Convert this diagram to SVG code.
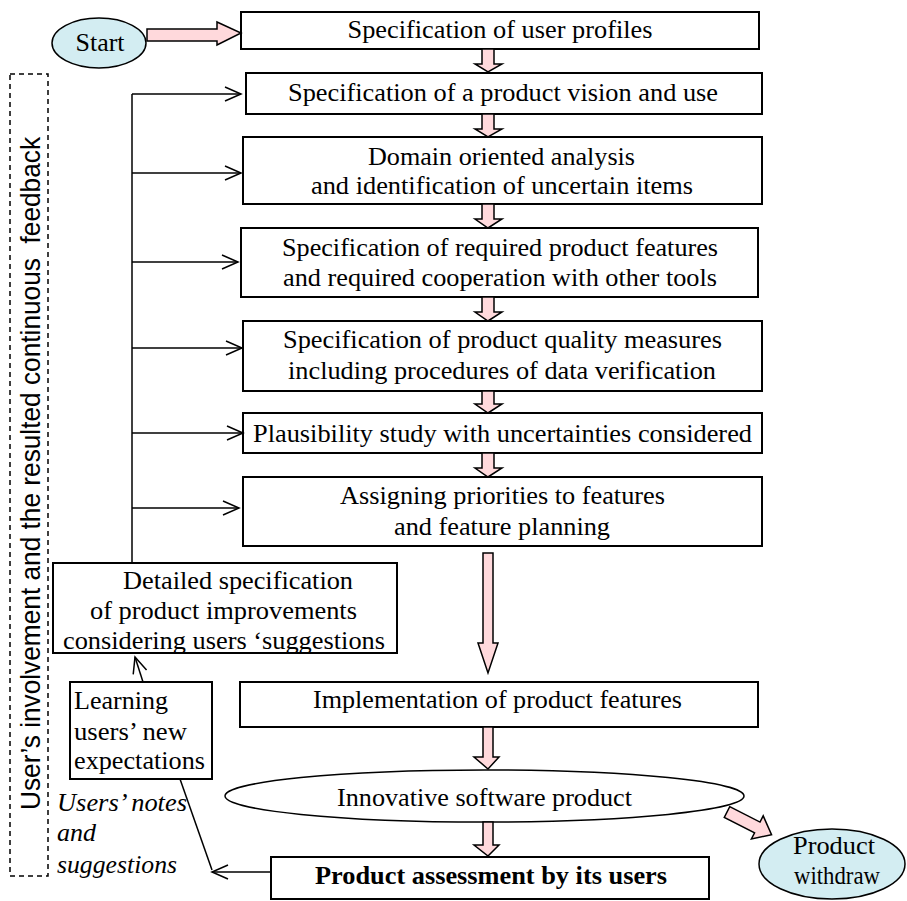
<svg xmlns="http://www.w3.org/2000/svg" width="907" height="901" viewBox="0 0 907 901">
<style>
.bx{fill:#fff;stroke:#000;stroke-width:2}
.el{fill:#d3edf2;stroke:#000;stroke-width:1.5}
.pk{fill:#ffd9dc;stroke:#000;stroke-width:1.5;stroke-linejoin:miter}
.t{font-family:"Liberation Serif","Times New Roman",serif;font-size:26px;fill:#000}
.m{text-anchor:middle}
.b{font-weight:bold}
.i{font-style:italic}
.ln{fill:none;stroke:#000;stroke-width:1.5}
.sans{font-family:"Liberation Sans",Arial,sans-serif;font-size:28px;fill:#000}
</style>
<defs>
<marker id="ah" markerUnits="userSpaceOnUse" markerWidth="20" markerHeight="18" refX="17" refY="8" orient="auto">
<path d="M1,1 L17,8 L1,15" fill="none" stroke="#000" stroke-width="1.5"/>
</marker>
</defs>
<rect x="0" y="0" width="907" height="901" fill="#fff"/>

<g id="feedback-label">
<rect x="10" y="74" width="38" height="802" fill="none" stroke="#000" stroke-width="1.5" stroke-dasharray="5,4"/>
<text class="sans" transform="translate(40,810) rotate(-90)" textLength="673" lengthAdjust="spacingAndGlyphs" xml:space="preserve">User’s involvement and the resulted continuous  feedback</text>
</g>

<g id="start">
<ellipse class="el" cx="99" cy="43" rx="47" ry="25"/>
<text class="t m" x="100" y="51" textLength="49" lengthAdjust="spacingAndGlyphs">Start</text>
</g>

<g id="n1">
<rect class="bx" x="241" y="12" width="518" height="37"/>
<text class="t m" x="500" y="38" textLength="305" lengthAdjust="spacingAndGlyphs">Specification of user profiles</text>
</g>
<g id="n2">
<rect class="bx" x="246" y="73" width="516" height="41"/>
<text class="t m" x="503" y="101" textLength="430" lengthAdjust="spacingAndGlyphs">Specification of a product vision and use</text>
</g>
<g id="n3">
<rect class="bx" x="243" y="137" width="519" height="67"/>
<text class="t m" x="501.5" y="165" textLength="267" lengthAdjust="spacingAndGlyphs">Domain oriented analysis</text>
<text class="t m" x="502" y="194" textLength="382" lengthAdjust="spacingAndGlyphs">and identification of uncertain items</text>
</g>
<g id="n4">
<rect class="bx" x="241" y="228" width="517" height="69"/>
<text class="t m" x="500" y="256" textLength="436" lengthAdjust="spacingAndGlyphs">Specification of required product features</text>
<text class="t m" x="500" y="286" textLength="434" lengthAdjust="spacingAndGlyphs">and required cooperation with other tools</text>
</g>
<g id="n5">
<rect class="bx" x="243" y="321" width="519" height="70"/>
<text class="t m" x="502.5" y="348" textLength="439" lengthAdjust="spacingAndGlyphs">Specification of product quality measures</text>
<text class="t m" x="502" y="379" textLength="428" lengthAdjust="spacingAndGlyphs">including procedures of data verification</text>
</g>
<g id="n6">
<rect class="bx" x="243" y="413" width="519" height="40"/>
<text class="t m" x="502.5" y="442" textLength="499" lengthAdjust="spacingAndGlyphs">Plausibility study with uncertainties considered</text>
</g>
<g id="n7">
<rect class="bx" x="243" y="477" width="519" height="69"/>
<text class="t m" x="502.5" y="504" textLength="325" lengthAdjust="spacingAndGlyphs">Assigning priorities to features</text>
<text class="t m" x="502" y="535" textLength="216" lengthAdjust="spacingAndGlyphs">and feature planning</text>
</g>
<g id="n-detailed">
<rect class="bx" x="53" y="563" width="344" height="90"/>
<text class="t m" x="238" y="589" textLength="230" lengthAdjust="spacingAndGlyphs">Detailed specification</text>
<text class="t m" x="223.5" y="619" textLength="267" lengthAdjust="spacingAndGlyphs">of product improvements</text>
<text class="t m" x="224" y="649" textLength="322" lengthAdjust="spacingAndGlyphs">considering users ‘suggestions</text>
</g>
<g id="n-learning">
<rect class="bx" x="70" y="682" width="142" height="97"/>
<text class="t" x="74" y="709" textLength="94" lengthAdjust="spacingAndGlyphs">Learning</text>
<text class="t" x="74" y="740" textLength="113" lengthAdjust="spacingAndGlyphs">users’ new</text>
<text class="t" x="74" y="769" textLength="131" lengthAdjust="spacingAndGlyphs">expectations</text>
</g>
<g id="n-impl">
<rect class="bx" x="240" y="682" width="518" height="45"/>
<text class="t m" x="497.5" y="708" textLength="369" lengthAdjust="spacingAndGlyphs">Implementation of product features</text>
</g>
<g id="n-product">
<ellipse cx="484.5" cy="796" rx="259.5" ry="26" fill="#fff" stroke="#000" stroke-width="1.5"/>
<text class="t m" x="484.5" y="806" textLength="295" lengthAdjust="spacingAndGlyphs">Innovative software product</text>
</g>
<g id="n-assess">
<rect class="bx" x="271" y="857" width="438" height="42"/>
<text class="t m b" x="491" y="884" textLength="352" lengthAdjust="spacingAndGlyphs">Product assessment by its users</text>
</g>
<g id="withdraw">
<ellipse class="el" cx="832" cy="864" rx="73" ry="35"/>
<text class="t m" x="834" y="854" textLength="82" lengthAdjust="spacingAndGlyphs">Product</text>
<text class="t m" x="837" y="884" textLength="86" lengthAdjust="spacingAndGlyphs">withdraw</text>
</g>
<g id="notes-label">
<text class="t i" x="57" y="811" textLength="130" lengthAdjust="spacingAndGlyphs">Users’ notes</text>
<text class="t i" x="57" y="841">and</text>
<text class="t i" x="57" y="873" textLength="120" lengthAdjust="spacingAndGlyphs">suggestions</text>
</g>

<g id="connectors">
<polygon class="pk" points="147,29 217,29 217,22 241,33 217,45 217,41 147,41"/>
<polygon class="pk" points="482,49 494,49 494,64 502,64 488,72 475,64 482,64"/>
<polygon class="pk" points="482,114 494,114 494,129 502,129 488,137 475,129 482,129"/>
<polygon class="pk" points="482,204 494,204 494,219 502,219 488,228 475,219 482,219"/>
<polygon class="pk" points="482,297 494,297 494,312 502,312 488,321 475,312 482,312"/>
<polygon class="pk" points="482,391 494,391 494,404 502,404 488,413 475,404 482,404"/>
<polygon class="pk" points="482,453 494,453 494,468 502,468 488,477 475,468 482,468"/>
<polygon class="pk" points="483,553 493,553 493,643 498,643 488,673 478,643 483,643"/>
<polygon class="pk" points="483,727 493,727 493,757 499,757 488,769 474,757 483,757"/>
<polygon class="pk" points="483,822 493,822 493,845 499,845 488,856 474,845 483,845"/>
<polygon class="pk" transform="translate(727,812) rotate(27)" points="0,-6 34,-6 34,-13 50,0 34,13 34,6 0,6"/>
<path class="ln" d="M132,94 V563"/>
<path class="ln" d="M132,94 H241" marker-end="url(#ah)"/>
<path class="ln" d="M132,173 H241" marker-end="url(#ah)"/>
<path class="ln" d="M132,262 H238" marker-end="url(#ah)"/>
<path class="ln" d="M132,348 H242" marker-end="url(#ah)"/>
<path class="ln" d="M132,433 H243" marker-end="url(#ah)"/>
<path class="ln" d="M132,508 H239" marker-end="url(#ah)"/>
<path class="ln" d="M143,682 L135,657" marker-end="url(#ah)" stroke-width="1.2"/>
<path class="ln" d="M271,872 H212" marker-end="url(#ah)" stroke-width="1.2"/>
<path class="ln" d="M212,870 L180,779" stroke-width="1.2"/>
</g>
</svg>
